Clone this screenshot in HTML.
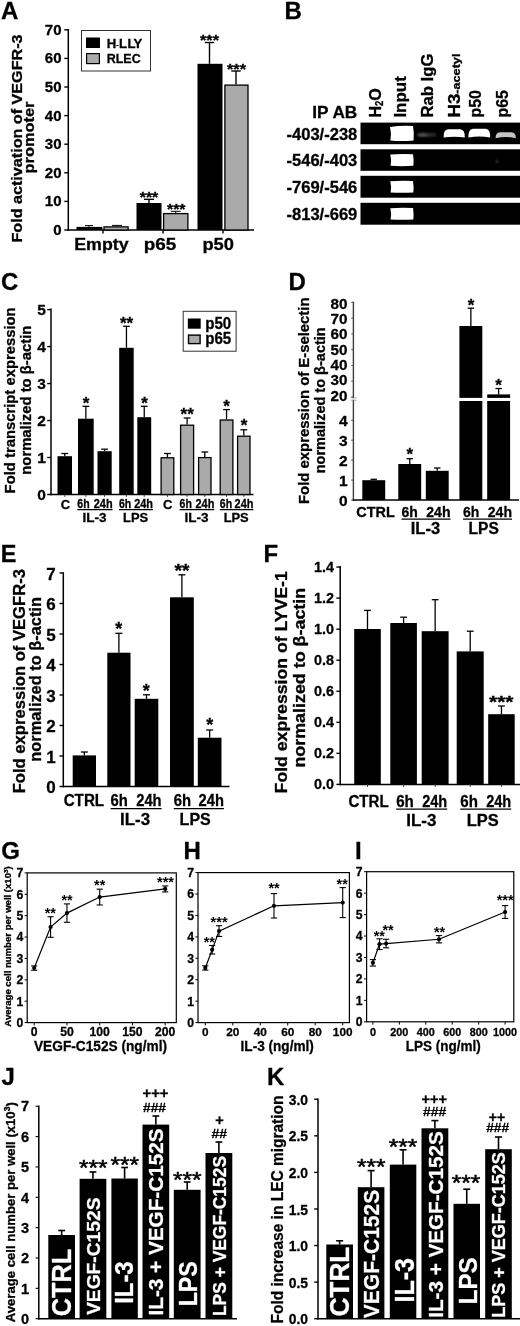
<!DOCTYPE html>
<html><head><meta charset="utf-8"><title>Figure</title>
<style>
html,body{margin:0;padding:0;background:#fff;}
body{width:520px;height:1326px;overflow:hidden;font-family:"Liberation Sans",sans-serif;}
svg{display:block;}
svg text{font-family:"Liberation Sans",sans-serif;font-weight:bold;stroke:#000;stroke-width:0.3px;}
</style></head>
<body>
<svg width="520" height="1326" viewBox="0 0 520 1326">
<defs>
<filter id="soft" x="0" y="0" width="520" height="1326" filterUnits="userSpaceOnUse"><feGaussianBlur stdDeviation="0.45"/></filter>
<filter id="b1" x="-20%" y="-40%" width="140%" height="180%"><feGaussianBlur stdDeviation="0.7"/></filter>
<filter id="b2" x="-50%" y="-100%" width="200%" height="300%"><feGaussianBlur stdDeviation="1.2"/></filter>
</defs>
<rect x="0" y="0" width="520" height="1326" fill="#fff"/>
<g filter="url(#soft)">
<text x="1.00" y="19.30" font-size="24">A</text>
<line x1="68.30" y1="29.10" x2="68.30" y2="230.75" stroke="#000" stroke-width="1.5"/>
<line x1="67.60" y1="230.00" x2="254.00" y2="230.00" stroke="#000" stroke-width="1.5"/>
<line x1="64.30" y1="230.00" x2="68.30" y2="230.00" stroke="#000" stroke-width="1.4"/>
<text x="61.50" y="235.00" font-size="15" text-anchor="end">0</text>
<line x1="64.30" y1="201.40" x2="68.30" y2="201.40" stroke="#000" stroke-width="1.4"/>
<text x="61.50" y="206.40" font-size="15" text-anchor="end">10</text>
<line x1="64.30" y1="172.80" x2="68.30" y2="172.80" stroke="#000" stroke-width="1.4"/>
<text x="61.50" y="177.80" font-size="15" text-anchor="end">20</text>
<line x1="64.30" y1="144.20" x2="68.30" y2="144.20" stroke="#000" stroke-width="1.4"/>
<text x="61.50" y="149.20" font-size="15" text-anchor="end">30</text>
<line x1="64.30" y1="115.60" x2="68.30" y2="115.60" stroke="#000" stroke-width="1.4"/>
<text x="61.50" y="120.60" font-size="15" text-anchor="end">40</text>
<line x1="64.30" y1="87.00" x2="68.30" y2="87.00" stroke="#000" stroke-width="1.4"/>
<text x="61.50" y="92.00" font-size="15" text-anchor="end">50</text>
<line x1="64.30" y1="58.40" x2="68.30" y2="58.40" stroke="#000" stroke-width="1.4"/>
<text x="61.50" y="63.40" font-size="15" text-anchor="end">60</text>
<line x1="64.30" y1="29.80" x2="68.30" y2="29.80" stroke="#000" stroke-width="1.4"/>
<text x="61.50" y="34.80" font-size="15" text-anchor="end">70</text>
<line x1="103.00" y1="230.00" x2="103.00" y2="233.50" stroke="#000" stroke-width="1.4"/>
<line x1="163.00" y1="230.00" x2="163.00" y2="233.50" stroke="#000" stroke-width="1.4"/>
<line x1="223.00" y1="230.00" x2="223.00" y2="233.50" stroke="#000" stroke-width="1.4"/>
<rect x="76.50" y="226.90" width="25.90" height="3.10" fill="#000"/>
<rect x="104.00" y="226.90" width="24.10" height="3.10" fill="#aaaaaa" stroke="#000" stroke-width="1.3"/>
<rect x="136.50" y="203.00" width="25.00" height="27.00" fill="#000"/>
<rect x="163.60" y="213.60" width="24.30" height="16.40" fill="#aaaaaa" stroke="#000" stroke-width="1.3"/>
<rect x="197.50" y="63.80" width="25.00" height="166.20" fill="#000"/>
<rect x="224.90" y="85.10" width="23.10" height="144.90" fill="#aaaaaa" stroke="#000" stroke-width="1.3"/>
<line x1="89.00" y1="226.90" x2="89.00" y2="225.60" stroke="#000" stroke-width="1"/>
<line x1="85.00" y1="225.60" x2="93.00" y2="225.60" stroke="#000" stroke-width="1"/>
<line x1="117.00" y1="226.30" x2="117.00" y2="225.40" stroke="#000" stroke-width="1"/>
<line x1="112.00" y1="225.40" x2="122.00" y2="225.40" stroke="#000" stroke-width="1"/>
<line x1="149.00" y1="203.00" x2="149.00" y2="199.30" stroke="#000" stroke-width="1.4"/>
<line x1="144.00" y1="199.30" x2="154.00" y2="199.30" stroke="#000" stroke-width="1.4"/>
<line x1="175.70" y1="213.00" x2="175.70" y2="211.30" stroke="#000" stroke-width="1"/>
<line x1="170.70" y1="211.30" x2="180.70" y2="211.30" stroke="#000" stroke-width="1"/>
<line x1="209.50" y1="63.80" x2="209.50" y2="42.50" stroke="#000" stroke-width="1.4"/>
<line x1="204.80" y1="42.50" x2="214.20" y2="42.50" stroke="#000" stroke-width="1.4"/>
<line x1="236.00" y1="84.50" x2="236.00" y2="71.00" stroke="#000" stroke-width="1.4"/>
<line x1="231.30" y1="71.00" x2="240.70" y2="71.00" stroke="#000" stroke-width="1.4"/>
<text x="209.50" y="44.70" font-size="14" text-anchor="middle" textLength="19.00" lengthAdjust="spacingAndGlyphs">***</text>
<text x="236.50" y="73.70" font-size="14" text-anchor="middle" textLength="19.00" lengthAdjust="spacingAndGlyphs">***</text>
<text x="149.00" y="201.80" font-size="14" text-anchor="middle" textLength="18.50" lengthAdjust="spacingAndGlyphs">***</text>
<text x="176.30" y="213.80" font-size="14" text-anchor="middle" textLength="18.50" lengthAdjust="spacingAndGlyphs">***</text>
<rect x="81.50" y="30.50" width="69.00" height="40.50" fill="#fff" stroke="#333" stroke-width="1"/>
<rect x="86.00" y="37.50" width="14.00" height="10.50" fill="#000"/>
<rect x="86.60" y="53.60" width="12.80" height="10.00" fill="#aaaaaa" stroke="#000" stroke-width="1.2"/>
<text x="106.70" y="47.70" font-size="13.2">H<tspan font-size="7" dy="-1.2">-</tspan><tspan dx="0.3" dy="1.2">L</tspan><tspan dx="0.6">L</tspan><tspan dx="-0.9">Y</tspan></text>
<text x="106.70" y="63.30" font-size="13.5" textLength="34.00" lengthAdjust="spacingAndGlyphs">RLEC</text>
<text x="101.40" y="250.00" font-size="16" text-anchor="middle" textLength="54.30" lengthAdjust="spacingAndGlyphs">Empty</text>
<text x="160.00" y="250.00" font-size="17" text-anchor="middle" textLength="32.50" lengthAdjust="spacingAndGlyphs">p65</text>
<text x="218.20" y="250.00" font-size="17" text-anchor="middle" textLength="31.50" lengthAdjust="spacingAndGlyphs">p50</text>
<text x="21.60" y="138.50" font-size="14.5" text-anchor="middle" transform="rotate(-90 21.60 138.50)" textLength="208.00" lengthAdjust="spacingAndGlyphs">Fold activation of VEGFR-3</text>
<text x="34.20" y="137.50" font-size="14.5" text-anchor="middle" transform="rotate(-90 34.20 137.50)" textLength="72.00" lengthAdjust="spacingAndGlyphs">promoter</text>
<text x="284.50" y="19.00" font-size="24">B</text>
<text x="312.30" y="118.00" font-size="17" textLength="45.00" lengthAdjust="spacingAndGlyphs">IP AB</text>
<rect x="360.50" y="122.60" width="159.50" height="21.60" fill="#000"/>
<text x="357.30" y="140.20" font-size="16" text-anchor="end" textLength="70.80" lengthAdjust="spacingAndGlyphs">-403/-238</text>
<rect x="360.50" y="149.30" width="159.50" height="21.50" fill="#000"/>
<text x="357.30" y="166.35" font-size="16" text-anchor="end" textLength="70.80" lengthAdjust="spacingAndGlyphs">-546/-403</text>
<rect x="360.50" y="175.80" width="159.50" height="21.90" fill="#000"/>
<text x="357.30" y="193.05" font-size="16" text-anchor="end" textLength="70.80" lengthAdjust="spacingAndGlyphs">-769/-546</text>
<rect x="360.50" y="202.80" width="159.50" height="21.90" fill="#000"/>
<text x="357.30" y="220.05" font-size="16" text-anchor="end" textLength="70.80" lengthAdjust="spacingAndGlyphs">-813/-669</text>
<path d="M390 127 Q401 125.2 413 126 Q414.3 133 413.6 140.6 Q401 141.6 390.4 140.6 Q391.8 134 390 127Z" fill="#fff" filter="url(#b1)"/>
<path d="M390.3 154.45 Q401 153.65 413 154.25 Q414 160.05 413.4 165.85 Q401 166.45 390.6 165.85 Q391.8 160.05 390.3 154.45Z" fill="#fff" filter="url(#b1)"/>
<path d="M390.3 181.15 Q401 180.35 413 180.95 Q414 186.75 413.4 192.55 Q401 193.15 390.6 192.55 Q391.8 186.75 390.3 181.15Z" fill="#fff" filter="url(#b1)"/>
<path d="M390.3 208.15 Q401 207.35 413 207.95 Q414 213.75 413.4 219.55 Q401 220.15 390.6 219.55 Q391.8 213.75 390.3 208.15Z" fill="#fff" filter="url(#b1)"/>
<ellipse cx="423" cy="134.8" rx="6" ry="1.9" fill="#555" filter="url(#b2)"/>
<ellipse cx="431" cy="134.8" rx="6" ry="1.6" fill="#333" filter="url(#b2)"/>
<path d="M443.6 137.6 Q443.3 129.7 448.1 129.2 L460.3 129.2 Q465.1 129.7 464.8 137.6 Q454.20000000000005 135.8 443.6 137.6Z" fill="#fff" filter="url(#b1)"/>
<path d="M468.4 137.6 Q468.09999999999997 129.2 472.9 128.7 L485.7 128.7 Q490.5 129.2 490.2 137.6 Q479.29999999999995 135.5 468.4 137.6Z" fill="#fff" filter="url(#b1)"/>
<path d="M495.6 138.2 Q495.3 132.7 500.1 132.2 L511.29999999999995 132.2 Q516.0999999999999 132.7 515.8 138.2 Q505.7 136.0 495.6 138.2Z" fill="#c4c4c4" filter="url(#b1)"/>
<ellipse cx="497" cy="161.6" rx="1.6" ry="1.6" fill="#3a3a3a" filter="url(#b2)"/>
<text x="381.50" y="117.60" font-size="17" transform="rotate(-90 381.50 117.60)" textLength="29.50" lengthAdjust="spacingAndGlyphs">H<tspan font-size="10" dy="1.5">2</tspan><tspan dy="-1.5">O</tspan></text>
<text x="406.20" y="117.60" font-size="17" transform="rotate(-90 406.20 117.60)" textLength="41.50" lengthAdjust="spacingAndGlyphs">Input</text>
<text x="433.20" y="117.60" font-size="17" transform="rotate(-90 433.20 117.60)" textLength="64.00" lengthAdjust="spacingAndGlyphs">Rab IgG</text>
<text x="460.00" y="117.60" font-size="17" transform="rotate(-90 460.00 117.60)" textLength="64.00" lengthAdjust="spacingAndGlyphs">H3<tspan font-size="11.5">-acetyl</tspan></text>
<text x="481.50" y="117.60" font-size="16.5" transform="rotate(-90 481.50 117.60)" textLength="27.50" lengthAdjust="spacingAndGlyphs">p50</text>
<text x="507.70" y="117.60" font-size="16.5" transform="rotate(-90 507.70 117.60)" textLength="27.50" lengthAdjust="spacingAndGlyphs">p65</text>
<text x="1.00" y="290.00" font-size="24">C</text>
<line x1="51.00" y1="308.50" x2="51.00" y2="495.25" stroke="#000" stroke-width="1.5"/>
<line x1="50.30" y1="494.50" x2="253.50" y2="494.50" stroke="#000" stroke-width="1.5"/>
<line x1="47.20" y1="494.50" x2="51.00" y2="494.50" stroke="#000" stroke-width="1.4"/>
<text x="45.80" y="500.00" font-size="15.5" text-anchor="end">0</text>
<line x1="47.20" y1="457.52" x2="51.00" y2="457.52" stroke="#000" stroke-width="1.4"/>
<text x="45.80" y="463.02" font-size="15.5" text-anchor="end">1</text>
<line x1="47.20" y1="420.54" x2="51.00" y2="420.54" stroke="#000" stroke-width="1.4"/>
<text x="45.80" y="426.04" font-size="15.5" text-anchor="end">2</text>
<line x1="47.20" y1="383.56" x2="51.00" y2="383.56" stroke="#000" stroke-width="1.4"/>
<text x="45.80" y="389.06" font-size="15.5" text-anchor="end">3</text>
<line x1="47.20" y1="346.58" x2="51.00" y2="346.58" stroke="#000" stroke-width="1.4"/>
<text x="45.80" y="352.08" font-size="15.5" text-anchor="end">4</text>
<line x1="47.20" y1="309.60" x2="51.00" y2="309.60" stroke="#000" stroke-width="1.4"/>
<text x="45.80" y="315.10" font-size="15.5" text-anchor="end">5</text>
<rect x="57.50" y="456.20" width="14.50" height="38.30" fill="#000"/>
<line x1="64.75" y1="456.20" x2="64.75" y2="453.50" stroke="#000" stroke-width="1.3"/>
<line x1="61.35" y1="453.50" x2="68.15" y2="453.50" stroke="#000" stroke-width="1.3"/>
<rect x="78.00" y="418.70" width="15.70" height="75.80" fill="#000"/>
<line x1="85.85" y1="418.70" x2="85.85" y2="406.30" stroke="#000" stroke-width="1.3"/>
<line x1="82.45" y1="406.30" x2="89.25" y2="406.30" stroke="#000" stroke-width="1.3"/>
<rect x="97.50" y="451.20" width="14.20" height="43.30" fill="#000"/>
<line x1="104.60" y1="451.20" x2="104.60" y2="449.20" stroke="#000" stroke-width="1.3"/>
<line x1="101.20" y1="449.20" x2="108.00" y2="449.20" stroke="#000" stroke-width="1.3"/>
<rect x="119.20" y="347.80" width="14.50" height="146.70" fill="#000"/>
<line x1="126.45" y1="347.80" x2="126.45" y2="326.30" stroke="#000" stroke-width="1.3"/>
<line x1="123.05" y1="326.30" x2="129.85" y2="326.30" stroke="#000" stroke-width="1.3"/>
<rect x="137.30" y="417.20" width="13.90" height="77.30" fill="#000"/>
<line x1="144.25" y1="417.20" x2="144.25" y2="406.30" stroke="#000" stroke-width="1.3"/>
<line x1="140.85" y1="406.30" x2="147.65" y2="406.30" stroke="#000" stroke-width="1.3"/>
<rect x="161.10" y="457.80" width="12.70" height="36.70" fill="#aaaaaa" stroke="#000" stroke-width="1.3"/>
<line x1="167.45" y1="457.20" x2="167.45" y2="453.50" stroke="#000" stroke-width="1.3"/>
<line x1="164.05" y1="453.50" x2="170.85" y2="453.50" stroke="#000" stroke-width="1.3"/>
<rect x="180.60" y="425.20" width="13.00" height="69.30" fill="#aaaaaa" stroke="#000" stroke-width="1.3"/>
<line x1="187.10" y1="424.60" x2="187.10" y2="418.00" stroke="#000" stroke-width="1.3"/>
<line x1="183.70" y1="418.00" x2="190.50" y2="418.00" stroke="#000" stroke-width="1.3"/>
<rect x="198.60" y="457.60" width="12.40" height="36.90" fill="#aaaaaa" stroke="#000" stroke-width="1.3"/>
<line x1="204.80" y1="457.00" x2="204.80" y2="452.00" stroke="#000" stroke-width="1.3"/>
<line x1="201.40" y1="452.00" x2="208.20" y2="452.00" stroke="#000" stroke-width="1.3"/>
<rect x="220.20" y="420.00" width="12.70" height="74.50" fill="#aaaaaa" stroke="#000" stroke-width="1.3"/>
<line x1="226.55" y1="419.40" x2="226.55" y2="409.60" stroke="#000" stroke-width="1.3"/>
<line x1="223.15" y1="409.60" x2="229.95" y2="409.60" stroke="#000" stroke-width="1.3"/>
<rect x="237.60" y="436.20" width="12.40" height="58.30" fill="#aaaaaa" stroke="#000" stroke-width="1.3"/>
<line x1="243.80" y1="435.60" x2="243.80" y2="429.80" stroke="#000" stroke-width="1.3"/>
<line x1="240.40" y1="429.80" x2="247.20" y2="429.80" stroke="#000" stroke-width="1.3"/>
<text x="86.00" y="408.50" font-size="17" text-anchor="middle">*</text>
<text x="126.50" y="328.70" font-size="17" text-anchor="middle">**</text>
<text x="144.50" y="408.50" font-size="17" text-anchor="middle">*</text>
<text x="187.20" y="419.50" font-size="17" text-anchor="middle">**</text>
<text x="226.50" y="411.50" font-size="17" text-anchor="middle">*</text>
<text x="244.00" y="431.00" font-size="17" text-anchor="middle">*</text>
<rect x="183.20" y="311.30" width="52.90" height="39.90" fill="#fff" stroke="#333" stroke-width="1"/>
<rect x="187.80" y="318.50" width="12.90" height="10.20" fill="#000"/>
<rect x="188.50" y="335.10" width="11.60" height="8.50" fill="#aaaaaa" stroke="#000" stroke-width="1.4"/>
<text x="205.20" y="329.20" font-size="16" textLength="26.00" lengthAdjust="spacingAndGlyphs">p50</text>
<text x="205.20" y="344.30" font-size="16" textLength="26.00" lengthAdjust="spacingAndGlyphs">p65</text>
<text x="65.40" y="508.70" font-size="13" text-anchor="middle">C</text>
<text x="167.60" y="508.70" font-size="13" text-anchor="middle">C</text>
<text x="77.30" y="508.10" font-size="12" textLength="12.30" lengthAdjust="spacingAndGlyphs">6h</text>
<text x="112.60" y="508.10" font-size="12" text-anchor="end" textLength="18.80" lengthAdjust="spacingAndGlyphs">24h</text>
<line x1="77.30" y1="509.60" x2="112.60" y2="509.60" stroke="#000" stroke-width="1.2"/>
<text x="94.55" y="521.50" font-size="13" text-anchor="middle" textLength="24.00" lengthAdjust="spacingAndGlyphs">IL-3</text>
<text x="119.00" y="508.10" font-size="12" textLength="12.30" lengthAdjust="spacingAndGlyphs">6h</text>
<text x="153.00" y="508.10" font-size="12" text-anchor="end" textLength="18.80" lengthAdjust="spacingAndGlyphs">24h</text>
<line x1="119.00" y1="509.60" x2="153.00" y2="509.60" stroke="#000" stroke-width="1.2"/>
<text x="135.60" y="521.50" font-size="13" text-anchor="middle" textLength="25.10" lengthAdjust="spacingAndGlyphs">LPS</text>
<text x="179.60" y="508.10" font-size="12" textLength="12.30" lengthAdjust="spacingAndGlyphs">6h</text>
<text x="214.30" y="508.10" font-size="12" text-anchor="end" textLength="18.80" lengthAdjust="spacingAndGlyphs">24h</text>
<line x1="179.60" y1="509.60" x2="214.30" y2="509.60" stroke="#000" stroke-width="1.2"/>
<text x="196.55" y="521.50" font-size="13" text-anchor="middle" textLength="24.00" lengthAdjust="spacingAndGlyphs">IL-3</text>
<text x="219.80" y="508.10" font-size="12" textLength="12.30" lengthAdjust="spacingAndGlyphs">6h</text>
<text x="253.40" y="508.10" font-size="12" text-anchor="end" textLength="18.80" lengthAdjust="spacingAndGlyphs">24h</text>
<line x1="219.80" y1="509.60" x2="253.40" y2="509.60" stroke="#000" stroke-width="1.2"/>
<text x="236.20" y="521.50" font-size="13" text-anchor="middle" textLength="25.10" lengthAdjust="spacingAndGlyphs">LPS</text>
<line x1="64.75" y1="494.50" x2="64.75" y2="496.90" stroke="#333" stroke-width="0.9"/>
<line x1="85.85" y1="494.50" x2="85.85" y2="496.90" stroke="#333" stroke-width="0.9"/>
<line x1="104.60" y1="494.50" x2="104.60" y2="496.90" stroke="#333" stroke-width="0.9"/>
<line x1="126.45" y1="494.50" x2="126.45" y2="496.90" stroke="#333" stroke-width="0.9"/>
<line x1="144.25" y1="494.50" x2="144.25" y2="496.90" stroke="#333" stroke-width="0.9"/>
<line x1="167.45" y1="494.50" x2="167.45" y2="496.90" stroke="#333" stroke-width="0.9"/>
<line x1="187.10" y1="494.50" x2="187.10" y2="496.90" stroke="#333" stroke-width="0.9"/>
<line x1="204.80" y1="494.50" x2="204.80" y2="496.90" stroke="#333" stroke-width="0.9"/>
<line x1="226.55" y1="494.50" x2="226.55" y2="496.90" stroke="#333" stroke-width="0.9"/>
<line x1="243.80" y1="494.50" x2="243.80" y2="496.90" stroke="#333" stroke-width="0.9"/>
<text x="15.30" y="400.40" font-size="15.3" text-anchor="middle" transform="rotate(-90 15.30 400.40)" textLength="186.00" lengthAdjust="spacingAndGlyphs">Fold transcript expression</text>
<text x="31.20" y="400.20" font-size="15.3" text-anchor="middle" transform="rotate(-90 31.20 400.20)" textLength="149.00" lengthAdjust="spacingAndGlyphs">normalized to β-actin</text>
<text x="288.50" y="289.50" font-size="24">D</text>
<line x1="353.40" y1="301.60" x2="353.40" y2="500.70" stroke="#3a3a3a" stroke-width="1.4"/>
<line x1="352.70" y1="500.00" x2="519.00" y2="500.00" stroke="#000" stroke-width="1.5"/>
<rect x="351.40" y="398.20" width="4.00" height="1.60" fill="#fff"/>
<line x1="350.80" y1="397.80" x2="356.80" y2="397.80" stroke="#888" stroke-width="0.7"/>
<line x1="350.80" y1="400.20" x2="356.80" y2="400.20" stroke="#888" stroke-width="0.7"/>
<line x1="351.20" y1="500.00" x2="353.40" y2="500.00" stroke="#444" stroke-width="1.0"/>
<text x="347.60" y="505.50" font-size="15.5" text-anchor="end">0</text>
<line x1="351.20" y1="480.05" x2="353.40" y2="480.05" stroke="#444" stroke-width="1.0"/>
<text x="347.60" y="485.55" font-size="15.5" text-anchor="end">1</text>
<line x1="351.20" y1="460.10" x2="353.40" y2="460.10" stroke="#444" stroke-width="1.0"/>
<text x="347.60" y="465.60" font-size="15.5" text-anchor="end">2</text>
<line x1="351.20" y1="440.15" x2="353.40" y2="440.15" stroke="#444" stroke-width="1.0"/>
<text x="347.60" y="445.65" font-size="15.5" text-anchor="end">3</text>
<line x1="351.20" y1="420.20" x2="353.40" y2="420.20" stroke="#444" stroke-width="1.0"/>
<text x="347.60" y="425.70" font-size="15.5" text-anchor="end">4</text>
<line x1="351.20" y1="397.00" x2="353.40" y2="397.00" stroke="#555" stroke-width="1.0"/>
<text x="347.50" y="400.80" font-size="15.2" text-anchor="end">20</text>
<line x1="351.20" y1="381.23" x2="353.40" y2="381.23" stroke="#555" stroke-width="1.0"/>
<text x="347.50" y="385.47" font-size="15.2" text-anchor="end">30</text>
<line x1="351.20" y1="365.46" x2="353.40" y2="365.46" stroke="#555" stroke-width="1.0"/>
<text x="347.50" y="370.14" font-size="15.2" text-anchor="end">40</text>
<line x1="351.20" y1="349.69" x2="353.40" y2="349.69" stroke="#555" stroke-width="1.0"/>
<text x="347.50" y="354.81" font-size="15.2" text-anchor="end">50</text>
<line x1="351.20" y1="333.92" x2="353.40" y2="333.92" stroke="#555" stroke-width="1.0"/>
<text x="347.50" y="339.48" font-size="15.2" text-anchor="end">60</text>
<line x1="351.20" y1="318.15" x2="353.40" y2="318.15" stroke="#555" stroke-width="1.0"/>
<text x="347.50" y="324.15" font-size="15.2" text-anchor="end">70</text>
<line x1="351.20" y1="302.38" x2="353.40" y2="302.38" stroke="#555" stroke-width="1.0"/>
<text x="347.50" y="308.82" font-size="15.2" text-anchor="end">80</text>
<rect x="362.30" y="480.20" width="22.90" height="19.80" fill="#000"/>
<line x1="373.75" y1="480.20" x2="373.75" y2="479.30" stroke="#000" stroke-width="1.3"/>
<line x1="370.55" y1="479.30" x2="376.95" y2="479.30" stroke="#000" stroke-width="1.3"/>
<rect x="398.30" y="464.00" width="22.90" height="36.00" fill="#000"/>
<line x1="409.75" y1="464.00" x2="409.75" y2="458.70" stroke="#000" stroke-width="1.3"/>
<line x1="406.55" y1="458.70" x2="412.95" y2="458.70" stroke="#000" stroke-width="1.3"/>
<rect x="425.80" y="470.80" width="22.90" height="29.20" fill="#000"/>
<line x1="437.25" y1="470.80" x2="437.25" y2="468.00" stroke="#000" stroke-width="1.3"/>
<line x1="434.05" y1="468.00" x2="440.45" y2="468.00" stroke="#000" stroke-width="1.3"/>
<rect x="459.40" y="326.00" width="22.90" height="174.00" fill="#000"/>
<line x1="470.85" y1="326.00" x2="470.85" y2="308.20" stroke="#000" stroke-width="1.3"/>
<line x1="467.65" y1="308.20" x2="474.05" y2="308.20" stroke="#000" stroke-width="1.3"/>
<rect x="487.20" y="394.40" width="22.90" height="105.60" fill="#000"/>
<line x1="498.65" y1="394.40" x2="498.65" y2="388.50" stroke="#000" stroke-width="1.3"/>
<line x1="495.45" y1="388.50" x2="501.85" y2="388.50" stroke="#000" stroke-width="1.3"/>
<rect x="455.00" y="397.90" width="60.00" height="3.10" fill="#fff"/>
<text x="409.70" y="459.90" font-size="17" text-anchor="middle">*</text>
<text x="471.00" y="310.80" font-size="17" text-anchor="middle">*</text>
<text x="498.50" y="391.00" font-size="17" text-anchor="middle">*</text>
<text x="375.50" y="517.00" font-size="15" text-anchor="middle" textLength="38.50" lengthAdjust="spacingAndGlyphs">CTRL</text>
<text x="401.50" y="517.00" font-size="15" textLength="16.30" lengthAdjust="spacingAndGlyphs">6h</text>
<text x="450.50" y="517.00" font-size="15" text-anchor="end" textLength="24.20" lengthAdjust="spacingAndGlyphs">24h</text>
<line x1="401.50" y1="519.20" x2="450.50" y2="519.20" stroke="#000" stroke-width="1.2"/>
<text x="425.40" y="533.50" font-size="16" text-anchor="middle" textLength="29.40" lengthAdjust="spacingAndGlyphs">IL-3</text>
<text x="463.00" y="517.00" font-size="15" textLength="16.30" lengthAdjust="spacingAndGlyphs">6h</text>
<text x="512.00" y="517.00" font-size="15" text-anchor="end" textLength="24.20" lengthAdjust="spacingAndGlyphs">24h</text>
<line x1="463.00" y1="519.20" x2="512.00" y2="519.20" stroke="#000" stroke-width="1.2"/>
<text x="483.70" y="533.50" font-size="16" text-anchor="middle" textLength="30.20" lengthAdjust="spacingAndGlyphs">LPS</text>
<text x="309.20" y="400.70" font-size="15" text-anchor="middle" transform="rotate(-90 309.20 400.70)" textLength="206.50" lengthAdjust="spacingAndGlyphs">Fold expression of E-selectin</text>
<text x="325.50" y="400.30" font-size="15" text-anchor="middle" transform="rotate(-90 325.50 400.30)" textLength="146.00" lengthAdjust="spacingAndGlyphs">normalized to β-actin</text>
<text x="0.80" y="561.80" font-size="23.5">E</text>
<line x1="63.30" y1="572.30" x2="63.30" y2="787.25" stroke="#000" stroke-width="1.5"/>
<line x1="62.60" y1="786.50" x2="229.50" y2="786.50" stroke="#000" stroke-width="1.5"/>
<line x1="59.50" y1="786.50" x2="63.30" y2="786.50" stroke="#000" stroke-width="1.4"/>
<text x="55.70" y="793.40" font-size="17" text-anchor="end">0</text>
<line x1="59.50" y1="756.00" x2="63.30" y2="756.00" stroke="#000" stroke-width="1.4"/>
<text x="55.70" y="762.90" font-size="17" text-anchor="end">1</text>
<line x1="59.50" y1="725.50" x2="63.30" y2="725.50" stroke="#000" stroke-width="1.4"/>
<text x="55.70" y="732.40" font-size="17" text-anchor="end">2</text>
<line x1="59.50" y1="695.00" x2="63.30" y2="695.00" stroke="#000" stroke-width="1.4"/>
<text x="55.70" y="701.90" font-size="17" text-anchor="end">3</text>
<line x1="59.50" y1="664.50" x2="63.30" y2="664.50" stroke="#000" stroke-width="1.4"/>
<text x="55.70" y="671.40" font-size="17" text-anchor="end">4</text>
<line x1="59.50" y1="634.00" x2="63.30" y2="634.00" stroke="#000" stroke-width="1.4"/>
<text x="55.70" y="640.90" font-size="17" text-anchor="end">5</text>
<line x1="59.50" y1="603.50" x2="63.30" y2="603.50" stroke="#000" stroke-width="1.4"/>
<text x="55.70" y="610.40" font-size="17" text-anchor="end">6</text>
<line x1="59.50" y1="573.00" x2="63.30" y2="573.00" stroke="#000" stroke-width="1.4"/>
<text x="55.70" y="579.90" font-size="17" text-anchor="end">7</text>
<rect x="72.70" y="755.40" width="23.30" height="31.10" fill="#000"/>
<line x1="84.35" y1="755.40" x2="84.35" y2="752.00" stroke="#000" stroke-width="1.3"/>
<line x1="80.85" y1="752.00" x2="87.85" y2="752.00" stroke="#000" stroke-width="1.3"/>
<rect x="107.30" y="652.70" width="23.20" height="133.80" fill="#000"/>
<line x1="118.90" y1="652.70" x2="118.90" y2="633.30" stroke="#000" stroke-width="1.3"/>
<line x1="115.40" y1="633.30" x2="122.40" y2="633.30" stroke="#000" stroke-width="1.3"/>
<rect x="134.70" y="698.80" width="23.60" height="87.70" fill="#000"/>
<line x1="146.50" y1="698.80" x2="146.50" y2="694.80" stroke="#000" stroke-width="1.3"/>
<line x1="143.00" y1="694.80" x2="150.00" y2="694.80" stroke="#000" stroke-width="1.3"/>
<rect x="170.00" y="597.30" width="23.80" height="189.20" fill="#000"/>
<line x1="181.90" y1="597.30" x2="181.90" y2="574.80" stroke="#000" stroke-width="1.3"/>
<line x1="178.40" y1="574.80" x2="185.40" y2="574.80" stroke="#000" stroke-width="1.3"/>
<rect x="197.80" y="737.70" width="23.70" height="48.80" fill="#000"/>
<line x1="209.65" y1="737.70" x2="209.65" y2="730.00" stroke="#000" stroke-width="1.3"/>
<line x1="206.15" y1="730.00" x2="213.15" y2="730.00" stroke="#000" stroke-width="1.3"/>
<text x="118.70" y="635.30" font-size="18" text-anchor="middle">*</text>
<text x="146.30" y="697.00" font-size="18" text-anchor="middle">*</text>
<text x="182.10" y="577.00" font-size="18" text-anchor="middle" textLength="15.00" lengthAdjust="spacingAndGlyphs">**</text>
<text x="209.80" y="731.30" font-size="18" text-anchor="middle">*</text>
<text x="83.90" y="806.00" font-size="16" text-anchor="middle" textLength="40.50" lengthAdjust="spacingAndGlyphs">CTRL</text>
<text x="110.60" y="806.00" font-size="16" textLength="17.30" lengthAdjust="spacingAndGlyphs">6h</text>
<text x="161.60" y="806.00" font-size="16" text-anchor="end" textLength="25.30" lengthAdjust="spacingAndGlyphs">24h</text>
<line x1="110.60" y1="808.70" x2="161.60" y2="808.70" stroke="#000" stroke-width="1.3"/>
<text x="135.10" y="825.00" font-size="16.5" text-anchor="middle" textLength="30.10" lengthAdjust="spacingAndGlyphs">IL-3</text>
<text x="173.80" y="806.00" font-size="16" textLength="17.30" lengthAdjust="spacingAndGlyphs">6h</text>
<text x="223.90" y="806.00" font-size="16" text-anchor="end" textLength="25.30" lengthAdjust="spacingAndGlyphs">24h</text>
<line x1="173.80" y1="808.70" x2="223.90" y2="808.70" stroke="#000" stroke-width="1.3"/>
<text x="195.20" y="825.00" font-size="16.5" text-anchor="middle" textLength="31.20" lengthAdjust="spacingAndGlyphs">LPS</text>
<text x="24.80" y="681.20" font-size="16.3" text-anchor="middle" transform="rotate(-90 24.80 681.20)" textLength="224.30" lengthAdjust="spacingAndGlyphs">Fold expression of VEGFR-3</text>
<text x="41.40" y="679.40" font-size="16.3" text-anchor="middle" transform="rotate(-90 41.40 679.40)" textLength="164.60" lengthAdjust="spacingAndGlyphs">normalized to β-actin</text>
<text x="263.50" y="562.00" font-size="24">F</text>
<line x1="340.20" y1="566.00" x2="340.20" y2="785.15" stroke="#000" stroke-width="1.5"/>
<line x1="339.50" y1="784.40" x2="520.00" y2="784.40" stroke="#000" stroke-width="1.5"/>
<line x1="336.40" y1="784.40" x2="340.20" y2="784.40" stroke="#000" stroke-width="1.4"/>
<text x="334.10" y="789.30" font-size="14.5" text-anchor="end" textLength="20.00" lengthAdjust="spacingAndGlyphs">0.0</text>
<line x1="336.40" y1="753.35" x2="340.20" y2="753.35" stroke="#000" stroke-width="1.4"/>
<text x="334.10" y="758.25" font-size="14.5" text-anchor="end" textLength="20.00" lengthAdjust="spacingAndGlyphs">0.2</text>
<line x1="336.40" y1="722.30" x2="340.20" y2="722.30" stroke="#000" stroke-width="1.4"/>
<text x="334.10" y="727.20" font-size="14.5" text-anchor="end" textLength="20.00" lengthAdjust="spacingAndGlyphs">0.4</text>
<line x1="336.40" y1="691.25" x2="340.20" y2="691.25" stroke="#000" stroke-width="1.4"/>
<text x="334.10" y="696.15" font-size="14.5" text-anchor="end" textLength="20.00" lengthAdjust="spacingAndGlyphs">0.6</text>
<line x1="336.40" y1="660.20" x2="340.20" y2="660.20" stroke="#000" stroke-width="1.4"/>
<text x="334.10" y="665.10" font-size="14.5" text-anchor="end" textLength="20.00" lengthAdjust="spacingAndGlyphs">0.8</text>
<line x1="336.40" y1="629.15" x2="340.20" y2="629.15" stroke="#000" stroke-width="1.4"/>
<text x="334.10" y="634.05" font-size="14.5" text-anchor="end" textLength="20.00" lengthAdjust="spacingAndGlyphs">1.0</text>
<line x1="336.40" y1="598.10" x2="340.20" y2="598.10" stroke="#000" stroke-width="1.4"/>
<text x="334.10" y="603.00" font-size="14.5" text-anchor="end" textLength="20.00" lengthAdjust="spacingAndGlyphs">1.2</text>
<line x1="336.40" y1="567.05" x2="340.20" y2="567.05" stroke="#000" stroke-width="1.4"/>
<text x="334.10" y="571.95" font-size="14.5" text-anchor="end" textLength="20.00" lengthAdjust="spacingAndGlyphs">1.4</text>
<rect x="354.20" y="629.00" width="26.60" height="155.40" fill="#000"/>
<line x1="367.50" y1="629.00" x2="367.50" y2="610.40" stroke="#000" stroke-width="1.3"/>
<line x1="364.10" y1="610.40" x2="370.90" y2="610.40" stroke="#000" stroke-width="1.3"/>
<line x1="367.50" y1="784.40" x2="367.50" y2="787.00" stroke="#444" stroke-width="1.0"/>
<rect x="390.30" y="623.00" width="26.60" height="161.40" fill="#000"/>
<line x1="403.60" y1="623.00" x2="403.60" y2="617.20" stroke="#000" stroke-width="1.3"/>
<line x1="400.20" y1="617.20" x2="407.00" y2="617.20" stroke="#000" stroke-width="1.3"/>
<line x1="403.60" y1="784.40" x2="403.60" y2="787.00" stroke="#444" stroke-width="1.0"/>
<rect x="421.70" y="631.20" width="26.90" height="153.20" fill="#000"/>
<line x1="435.15" y1="631.20" x2="435.15" y2="599.70" stroke="#000" stroke-width="1.3"/>
<line x1="431.75" y1="599.70" x2="438.55" y2="599.70" stroke="#000" stroke-width="1.3"/>
<line x1="435.15" y1="784.40" x2="435.15" y2="787.00" stroke="#444" stroke-width="1.0"/>
<rect x="456.70" y="651.40" width="27.00" height="133.00" fill="#000"/>
<line x1="470.20" y1="651.40" x2="470.20" y2="631.20" stroke="#000" stroke-width="1.3"/>
<line x1="466.80" y1="631.20" x2="473.60" y2="631.20" stroke="#000" stroke-width="1.3"/>
<line x1="470.20" y1="784.40" x2="470.20" y2="787.00" stroke="#444" stroke-width="1.0"/>
<rect x="488.20" y="714.20" width="26.50" height="70.20" fill="#000"/>
<line x1="501.45" y1="714.20" x2="501.45" y2="706.00" stroke="#000" stroke-width="1.3"/>
<line x1="498.05" y1="706.00" x2="504.85" y2="706.00" stroke="#000" stroke-width="1.3"/>
<line x1="501.45" y1="784.40" x2="501.45" y2="787.00" stroke="#444" stroke-width="1.0"/>
<text x="501.30" y="708.00" font-size="16" text-anchor="middle" textLength="24.50" lengthAdjust="spacingAndGlyphs">***</text>
<text x="368.50" y="806.50" font-size="16" text-anchor="middle" textLength="40.20" lengthAdjust="spacingAndGlyphs">CTRL</text>
<text x="396.20" y="806.50" font-size="16" textLength="17.60" lengthAdjust="spacingAndGlyphs">6h</text>
<text x="447.20" y="806.50" font-size="16" text-anchor="end" textLength="25.00" lengthAdjust="spacingAndGlyphs">24h</text>
<line x1="396.20" y1="809.20" x2="447.20" y2="809.20" stroke="#000" stroke-width="1.3"/>
<text x="421.30" y="825.50" font-size="17" text-anchor="middle" textLength="30.20" lengthAdjust="spacingAndGlyphs">IL-3</text>
<text x="460.30" y="806.50" font-size="16" textLength="17.60" lengthAdjust="spacingAndGlyphs">6h</text>
<text x="511.20" y="806.50" font-size="16" text-anchor="end" textLength="25.00" lengthAdjust="spacingAndGlyphs">24h</text>
<line x1="460.30" y1="809.20" x2="511.20" y2="809.20" stroke="#000" stroke-width="1.3"/>
<text x="482.70" y="825.50" font-size="17" text-anchor="middle" textLength="32.00" lengthAdjust="spacingAndGlyphs">LPS</text>
<text x="286.90" y="682.30" font-size="16" text-anchor="middle" transform="rotate(-90 286.90 682.30)" textLength="222.20" lengthAdjust="spacingAndGlyphs">Fold expression of LYVE-1</text>
<text x="305.40" y="677.70" font-size="16" text-anchor="middle" transform="rotate(-90 305.40 677.70)" textLength="179.70" lengthAdjust="spacingAndGlyphs">normalized to β-actin</text>
<text x="1.30" y="858.70" font-size="24">G</text>
<rect x="27.20" y="872.90" width="149.10" height="149.70" fill="none" stroke="#000" stroke-width="1.2"/>
<line x1="24.60" y1="1022.60" x2="27.20" y2="1022.60" stroke="#000" stroke-width="1.0"/>
<text x="23.30" y="1027.00" font-size="12.2" text-anchor="end">0</text>
<line x1="24.60" y1="1001.21" x2="27.20" y2="1001.21" stroke="#000" stroke-width="1.0"/>
<text x="23.30" y="1005.61" font-size="12.2" text-anchor="end">1</text>
<line x1="24.60" y1="979.83" x2="27.20" y2="979.83" stroke="#000" stroke-width="1.0"/>
<text x="23.30" y="984.23" font-size="12.2" text-anchor="end">2</text>
<line x1="24.60" y1="958.44" x2="27.20" y2="958.44" stroke="#000" stroke-width="1.0"/>
<text x="23.30" y="962.84" font-size="12.2" text-anchor="end">3</text>
<line x1="24.60" y1="937.06" x2="27.20" y2="937.06" stroke="#000" stroke-width="1.0"/>
<text x="23.30" y="941.46" font-size="12.2" text-anchor="end">4</text>
<line x1="24.60" y1="915.67" x2="27.20" y2="915.67" stroke="#000" stroke-width="1.0"/>
<text x="23.30" y="920.07" font-size="12.2" text-anchor="end">5</text>
<line x1="24.60" y1="894.29" x2="27.20" y2="894.29" stroke="#000" stroke-width="1.0"/>
<text x="23.30" y="898.69" font-size="12.2" text-anchor="end">6</text>
<line x1="24.60" y1="872.90" x2="27.20" y2="872.90" stroke="#000" stroke-width="1.0"/>
<text x="23.30" y="877.30" font-size="12.2" text-anchor="end">7</text>
<line x1="34.20" y1="1022.60" x2="34.20" y2="1025.40" stroke="#000" stroke-width="1.0"/>
<text x="34.20" y="1035.60" font-size="12.2" text-anchor="middle">0</text>
<line x1="66.95" y1="1022.60" x2="66.95" y2="1025.40" stroke="#000" stroke-width="1.0"/>
<text x="66.95" y="1035.60" font-size="12.2" text-anchor="middle">50</text>
<line x1="99.70" y1="1022.60" x2="99.70" y2="1025.40" stroke="#000" stroke-width="1.0"/>
<text x="99.70" y="1035.60" font-size="12.2" text-anchor="middle">100</text>
<line x1="132.45" y1="1022.60" x2="132.45" y2="1025.40" stroke="#000" stroke-width="1.0"/>
<text x="132.45" y="1035.60" font-size="12.2" text-anchor="middle">150</text>
<line x1="165.20" y1="1022.60" x2="165.20" y2="1025.40" stroke="#000" stroke-width="1.0"/>
<text x="165.20" y="1035.60" font-size="12.2" text-anchor="middle">200</text>
<path d="M34.20 968.07 L50.58 927.01 L66.95 913.11 L99.70 897.07 L165.20 888.94" fill="none" stroke="#000" stroke-width="1.2"/>
<line x1="34.20" y1="965.93" x2="34.20" y2="970.21" stroke="#000" stroke-width="1.1"/>
<line x1="31.10" y1="965.93" x2="37.30" y2="965.93" stroke="#000" stroke-width="1.1"/>
<line x1="31.10" y1="970.21" x2="37.30" y2="970.21" stroke="#000" stroke-width="1.1"/>
<circle cx="34.20" cy="968.07" r="2.1" fill="#000"/>
<line x1="50.58" y1="916.74" x2="50.58" y2="937.27" stroke="#000" stroke-width="1.1"/>
<line x1="47.48" y1="916.74" x2="53.68" y2="916.74" stroke="#000" stroke-width="1.1"/>
<line x1="47.48" y1="937.27" x2="53.68" y2="937.27" stroke="#000" stroke-width="1.1"/>
<circle cx="50.58" cy="927.01" r="2.1" fill="#000"/>
<line x1="66.95" y1="903.91" x2="66.95" y2="922.30" stroke="#000" stroke-width="1.1"/>
<line x1="63.85" y1="903.91" x2="70.05" y2="903.91" stroke="#000" stroke-width="1.1"/>
<line x1="63.85" y1="922.30" x2="70.05" y2="922.30" stroke="#000" stroke-width="1.1"/>
<circle cx="66.95" cy="913.11" r="2.1" fill="#000"/>
<line x1="99.70" y1="889.15" x2="99.70" y2="904.98" stroke="#000" stroke-width="1.1"/>
<line x1="96.60" y1="889.15" x2="102.80" y2="889.15" stroke="#000" stroke-width="1.1"/>
<line x1="96.60" y1="904.98" x2="102.80" y2="904.98" stroke="#000" stroke-width="1.1"/>
<circle cx="99.70" cy="897.07" r="2.1" fill="#000"/>
<line x1="165.20" y1="885.95" x2="165.20" y2="891.93" stroke="#000" stroke-width="1.1"/>
<line x1="162.10" y1="885.95" x2="168.30" y2="885.95" stroke="#000" stroke-width="1.1"/>
<line x1="162.10" y1="891.93" x2="168.30" y2="891.93" stroke="#000" stroke-width="1.1"/>
<circle cx="165.20" cy="888.94" r="2.1" fill="#000"/>
<text x="50.30" y="918.25" font-size="14.5" text-anchor="middle" style="stroke:none;" textLength="11.20" lengthAdjust="spacingAndGlyphs">**</text>
<text x="67.00" y="904.55" font-size="14.5" text-anchor="middle" style="stroke:none;" textLength="11.20" lengthAdjust="spacingAndGlyphs">**</text>
<text x="99.70" y="890.25" font-size="14.5" text-anchor="middle" style="stroke:none;" textLength="11.20" lengthAdjust="spacingAndGlyphs">**</text>
<text x="165.50" y="886.85" font-size="14.5" text-anchor="middle" style="stroke:none;" textLength="17.00" lengthAdjust="spacingAndGlyphs">***</text>
<text x="100.50" y="1050.50" font-size="14.3" text-anchor="middle" textLength="133.00" lengthAdjust="spacingAndGlyphs">VEGF-C152S (ng/ml)</text>
<text x="11.20" y="946.50" font-size="8.4" text-anchor="middle" transform="rotate(-90 11.20 946.50)" textLength="160.30" lengthAdjust="spacingAndGlyphs">Average cell number per well (x10<tspan font-size="5.5" dy="-3">3</tspan><tspan dy="3">)</tspan></text>
<text x="183.50" y="858.70" font-size="24">H</text>
<rect x="198.00" y="872.60" width="151.40" height="150.00" fill="none" stroke="#000" stroke-width="1.2"/>
<line x1="195.40" y1="1022.60" x2="198.00" y2="1022.60" stroke="#000" stroke-width="1.0"/>
<text x="194.00" y="1027.00" font-size="12.2" text-anchor="end">0</text>
<line x1="195.40" y1="1001.17" x2="198.00" y2="1001.17" stroke="#000" stroke-width="1.0"/>
<text x="194.00" y="1005.57" font-size="12.2" text-anchor="end">1</text>
<line x1="195.40" y1="979.74" x2="198.00" y2="979.74" stroke="#000" stroke-width="1.0"/>
<text x="194.00" y="984.14" font-size="12.2" text-anchor="end">2</text>
<line x1="195.40" y1="958.31" x2="198.00" y2="958.31" stroke="#000" stroke-width="1.0"/>
<text x="194.00" y="962.71" font-size="12.2" text-anchor="end">3</text>
<line x1="195.40" y1="936.89" x2="198.00" y2="936.89" stroke="#000" stroke-width="1.0"/>
<text x="194.00" y="941.29" font-size="12.2" text-anchor="end">4</text>
<line x1="195.40" y1="915.46" x2="198.00" y2="915.46" stroke="#000" stroke-width="1.0"/>
<text x="194.00" y="919.86" font-size="12.2" text-anchor="end">5</text>
<line x1="195.40" y1="894.03" x2="198.00" y2="894.03" stroke="#000" stroke-width="1.0"/>
<text x="194.00" y="898.43" font-size="12.2" text-anchor="end">6</text>
<line x1="195.40" y1="872.60" x2="198.00" y2="872.60" stroke="#000" stroke-width="1.0"/>
<text x="194.00" y="877.00" font-size="12.2" text-anchor="end">7</text>
<line x1="205.30" y1="1022.60" x2="205.30" y2="1025.40" stroke="#000" stroke-width="1.0"/>
<text x="205.30" y="1035.60" font-size="11.8" text-anchor="middle">0</text>
<line x1="232.78" y1="1022.60" x2="232.78" y2="1025.40" stroke="#000" stroke-width="1.0"/>
<text x="232.78" y="1035.60" font-size="11.8" text-anchor="middle">20</text>
<line x1="260.26" y1="1022.60" x2="260.26" y2="1025.40" stroke="#000" stroke-width="1.0"/>
<text x="260.26" y="1035.60" font-size="11.8" text-anchor="middle">40</text>
<line x1="287.74" y1="1022.60" x2="287.74" y2="1025.40" stroke="#000" stroke-width="1.0"/>
<text x="287.74" y="1035.60" font-size="11.8" text-anchor="middle">60</text>
<line x1="315.22" y1="1022.60" x2="315.22" y2="1025.40" stroke="#000" stroke-width="1.0"/>
<text x="315.22" y="1035.60" font-size="11.8" text-anchor="middle">80</text>
<line x1="342.70" y1="1022.60" x2="342.70" y2="1025.40" stroke="#000" stroke-width="1.0"/>
<text x="342.70" y="1035.60" font-size="11.8" text-anchor="middle">100</text>
<path d="M205.30 967.96 L212.17 949.74 L219.04 931.10 L274.00 905.81 L342.70 902.60" fill="none" stroke="#000" stroke-width="1.2"/>
<line x1="205.30" y1="965.81" x2="205.30" y2="970.10" stroke="#000" stroke-width="1.1"/>
<line x1="202.20" y1="965.81" x2="208.40" y2="965.81" stroke="#000" stroke-width="1.1"/>
<line x1="202.20" y1="970.10" x2="208.40" y2="970.10" stroke="#000" stroke-width="1.1"/>
<circle cx="205.30" cy="967.96" r="2.1" fill="#000"/>
<line x1="212.17" y1="945.46" x2="212.17" y2="954.03" stroke="#000" stroke-width="1.1"/>
<line x1="209.07" y1="945.46" x2="215.27" y2="945.46" stroke="#000" stroke-width="1.1"/>
<line x1="209.07" y1="954.03" x2="215.27" y2="954.03" stroke="#000" stroke-width="1.1"/>
<circle cx="212.17" cy="949.74" r="2.1" fill="#000"/>
<line x1="219.04" y1="925.74" x2="219.04" y2="936.46" stroke="#000" stroke-width="1.1"/>
<line x1="215.94" y1="925.74" x2="222.14" y2="925.74" stroke="#000" stroke-width="1.1"/>
<line x1="215.94" y1="936.46" x2="222.14" y2="936.46" stroke="#000" stroke-width="1.1"/>
<circle cx="219.04" cy="931.10" r="2.1" fill="#000"/>
<line x1="274.00" y1="893.60" x2="274.00" y2="918.03" stroke="#000" stroke-width="1.1"/>
<line x1="270.90" y1="893.60" x2="277.10" y2="893.60" stroke="#000" stroke-width="1.1"/>
<line x1="270.90" y1="918.03" x2="277.10" y2="918.03" stroke="#000" stroke-width="1.1"/>
<circle cx="274.00" cy="905.81" r="2.1" fill="#000"/>
<line x1="342.70" y1="887.60" x2="342.70" y2="917.60" stroke="#000" stroke-width="1.1"/>
<line x1="339.60" y1="887.60" x2="345.80" y2="887.60" stroke="#000" stroke-width="1.1"/>
<line x1="339.60" y1="917.60" x2="345.80" y2="917.60" stroke="#000" stroke-width="1.1"/>
<circle cx="342.70" cy="902.60" r="2.1" fill="#000"/>
<text x="209.30" y="946.55" font-size="14.5" text-anchor="middle" style="stroke:none;" textLength="11.20" lengthAdjust="spacingAndGlyphs">**</text>
<text x="219.10" y="926.85" font-size="14.5" text-anchor="middle" style="stroke:none;" textLength="17.00" lengthAdjust="spacingAndGlyphs">***</text>
<text x="274.00" y="893.25" font-size="14.5" text-anchor="middle" style="stroke:none;" textLength="11.20" lengthAdjust="spacingAndGlyphs">**</text>
<text x="342.20" y="888.75" font-size="14.5" text-anchor="middle" style="stroke:none;" textLength="11.20" lengthAdjust="spacingAndGlyphs">**</text>
<text x="277.20" y="1050.50" font-size="14.3" text-anchor="middle" textLength="73.30" lengthAdjust="spacingAndGlyphs">IL-3 (ng/ml)</text>
<text x="355.00" y="858.70" font-size="24">I</text>
<rect x="366.60" y="871.70" width="147.20" height="150.10" fill="none" stroke="#000" stroke-width="1.2"/>
<line x1="364.00" y1="1021.80" x2="366.60" y2="1021.80" stroke="#000" stroke-width="1.0"/>
<text x="362.50" y="1026.20" font-size="12.2" text-anchor="end">0</text>
<line x1="364.00" y1="1000.36" x2="366.60" y2="1000.36" stroke="#000" stroke-width="1.0"/>
<text x="362.50" y="1004.76" font-size="12.2" text-anchor="end">1</text>
<line x1="364.00" y1="978.91" x2="366.60" y2="978.91" stroke="#000" stroke-width="1.0"/>
<text x="362.50" y="983.31" font-size="12.2" text-anchor="end">2</text>
<line x1="364.00" y1="957.47" x2="366.60" y2="957.47" stroke="#000" stroke-width="1.0"/>
<text x="362.50" y="961.87" font-size="12.2" text-anchor="end">3</text>
<line x1="364.00" y1="936.03" x2="366.60" y2="936.03" stroke="#000" stroke-width="1.0"/>
<text x="362.50" y="940.43" font-size="12.2" text-anchor="end">4</text>
<line x1="364.00" y1="914.59" x2="366.60" y2="914.59" stroke="#000" stroke-width="1.0"/>
<text x="362.50" y="918.99" font-size="12.2" text-anchor="end">5</text>
<line x1="364.00" y1="893.14" x2="366.60" y2="893.14" stroke="#000" stroke-width="1.0"/>
<text x="362.50" y="897.54" font-size="12.2" text-anchor="end">6</text>
<line x1="364.00" y1="871.70" x2="366.60" y2="871.70" stroke="#000" stroke-width="1.0"/>
<text x="362.50" y="876.10" font-size="12.2" text-anchor="end">7</text>
<line x1="372.90" y1="1021.80" x2="372.90" y2="1024.60" stroke="#000" stroke-width="1.0"/>
<text x="372.90" y="1035.60" font-size="10.8" text-anchor="middle">0</text>
<line x1="399.34" y1="1021.80" x2="399.34" y2="1024.60" stroke="#000" stroke-width="1.0"/>
<text x="399.34" y="1035.60" font-size="10.8" text-anchor="middle">200</text>
<line x1="425.78" y1="1021.80" x2="425.78" y2="1024.60" stroke="#000" stroke-width="1.0"/>
<text x="425.78" y="1035.60" font-size="10.8" text-anchor="middle">400</text>
<line x1="452.22" y1="1021.80" x2="452.22" y2="1024.60" stroke="#000" stroke-width="1.0"/>
<text x="452.22" y="1035.60" font-size="10.8" text-anchor="middle">600</text>
<line x1="478.66" y1="1021.80" x2="478.66" y2="1024.60" stroke="#000" stroke-width="1.0"/>
<text x="478.66" y="1035.60" font-size="10.8" text-anchor="middle">800</text>
<line x1="505.10" y1="1021.80" x2="505.10" y2="1024.60" stroke="#000" stroke-width="1.0"/>
<text x="505.10" y="1035.60" font-size="10.8" text-anchor="middle">1000</text>
<path d="M372.90 962.83 L379.51 944.18 L386.12 943.53 L439.00 939.25 L505.10 912.01" fill="none" stroke="#000" stroke-width="1.2"/>
<line x1="372.90" y1="959.62" x2="372.90" y2="966.05" stroke="#000" stroke-width="1.1"/>
<line x1="369.80" y1="959.62" x2="376.00" y2="959.62" stroke="#000" stroke-width="1.1"/>
<line x1="369.80" y1="966.05" x2="376.00" y2="966.05" stroke="#000" stroke-width="1.1"/>
<circle cx="372.90" cy="962.83" r="2.1" fill="#000"/>
<line x1="379.51" y1="938.82" x2="379.51" y2="949.54" stroke="#000" stroke-width="1.1"/>
<line x1="376.41" y1="938.82" x2="382.61" y2="938.82" stroke="#000" stroke-width="1.1"/>
<line x1="376.41" y1="949.54" x2="382.61" y2="949.54" stroke="#000" stroke-width="1.1"/>
<circle cx="379.51" cy="944.18" r="2.1" fill="#000"/>
<line x1="386.12" y1="939.25" x2="386.12" y2="947.82" stroke="#000" stroke-width="1.1"/>
<line x1="383.02" y1="939.25" x2="389.22" y2="939.25" stroke="#000" stroke-width="1.1"/>
<line x1="383.02" y1="947.82" x2="389.22" y2="947.82" stroke="#000" stroke-width="1.1"/>
<circle cx="386.12" cy="943.53" r="2.1" fill="#000"/>
<line x1="439.00" y1="935.60" x2="439.00" y2="942.89" stroke="#000" stroke-width="1.1"/>
<line x1="435.90" y1="935.60" x2="442.10" y2="935.60" stroke="#000" stroke-width="1.1"/>
<line x1="435.90" y1="942.89" x2="442.10" y2="942.89" stroke="#000" stroke-width="1.1"/>
<circle cx="439.00" cy="939.25" r="2.1" fill="#000"/>
<line x1="505.10" y1="905.58" x2="505.10" y2="918.45" stroke="#000" stroke-width="1.1"/>
<line x1="502.00" y1="905.58" x2="508.20" y2="905.58" stroke="#000" stroke-width="1.1"/>
<line x1="502.00" y1="918.45" x2="508.20" y2="918.45" stroke="#000" stroke-width="1.1"/>
<circle cx="505.10" cy="912.01" r="2.1" fill="#000"/>
<text x="379.30" y="941.45" font-size="14.5" text-anchor="middle" style="stroke:none;" textLength="11.20" lengthAdjust="spacingAndGlyphs">**</text>
<text x="388.00" y="934.85" font-size="14.5" text-anchor="middle" style="stroke:none;" textLength="11.20" lengthAdjust="spacingAndGlyphs">**</text>
<text x="439.50" y="936.55" font-size="14.5" text-anchor="middle" style="stroke:none;" textLength="11.20" lengthAdjust="spacingAndGlyphs">**</text>
<text x="505.20" y="905.45" font-size="14.5" text-anchor="middle" style="stroke:none;" textLength="17.00" lengthAdjust="spacingAndGlyphs">***</text>
<text x="443.20" y="1050.50" font-size="14.3" text-anchor="middle" textLength="75.00" lengthAdjust="spacingAndGlyphs">LPS (ng/ml)</text>
<text x="1.50" y="1085.00" font-size="24">J</text>
<line x1="38.80" y1="1105.50" x2="38.80" y2="1319.45" stroke="#000" stroke-width="1.5"/>
<line x1="38.10" y1="1318.70" x2="237.00" y2="1318.70" stroke="#000" stroke-width="1.5"/>
<line x1="35.60" y1="1318.70" x2="38.80" y2="1318.70" stroke="#000" stroke-width="1.1"/>
<text x="29.20" y="1323.90" font-size="14.5" text-anchor="end">0</text>
<line x1="35.60" y1="1288.35" x2="38.80" y2="1288.35" stroke="#000" stroke-width="1.1"/>
<text x="29.20" y="1293.55" font-size="14.5" text-anchor="end">1</text>
<line x1="35.60" y1="1258.00" x2="38.80" y2="1258.00" stroke="#000" stroke-width="1.1"/>
<text x="29.20" y="1263.20" font-size="14.5" text-anchor="end">2</text>
<line x1="35.60" y1="1227.65" x2="38.80" y2="1227.65" stroke="#000" stroke-width="1.1"/>
<text x="29.20" y="1232.85" font-size="14.5" text-anchor="end">3</text>
<line x1="35.60" y1="1197.30" x2="38.80" y2="1197.30" stroke="#000" stroke-width="1.1"/>
<text x="29.20" y="1202.50" font-size="14.5" text-anchor="end">4</text>
<line x1="35.60" y1="1166.95" x2="38.80" y2="1166.95" stroke="#000" stroke-width="1.1"/>
<text x="29.20" y="1172.15" font-size="14.5" text-anchor="end">5</text>
<line x1="35.60" y1="1136.60" x2="38.80" y2="1136.60" stroke="#000" stroke-width="1.1"/>
<text x="29.20" y="1141.80" font-size="14.5" text-anchor="end">6</text>
<line x1="35.60" y1="1106.25" x2="38.80" y2="1106.25" stroke="#000" stroke-width="1.1"/>
<text x="29.20" y="1111.45" font-size="14.5" text-anchor="end">7</text>
<rect x="48.30" y="1235.00" width="26.70" height="83.70" fill="#000"/>
<line x1="61.65" y1="1235.00" x2="61.65" y2="1230.50" stroke="#000" stroke-width="1.6"/>
<line x1="58.25" y1="1230.50" x2="65.05" y2="1230.50" stroke="#000" stroke-width="1.6"/>
<rect x="79.60" y="1178.80" width="26.70" height="139.90" fill="#000"/>
<line x1="92.95" y1="1178.80" x2="92.95" y2="1172.00" stroke="#000" stroke-width="1.6"/>
<line x1="89.55" y1="1172.00" x2="96.35" y2="1172.00" stroke="#000" stroke-width="1.6"/>
<rect x="111.40" y="1178.50" width="26.40" height="140.20" fill="#000"/>
<line x1="124.60" y1="1178.50" x2="124.60" y2="1167.50" stroke="#000" stroke-width="1.6"/>
<line x1="121.20" y1="1167.50" x2="128.00" y2="1167.50" stroke="#000" stroke-width="1.6"/>
<rect x="142.50" y="1124.60" width="26.70" height="194.10" fill="#000"/>
<line x1="155.85" y1="1124.60" x2="155.85" y2="1116.00" stroke="#000" stroke-width="1.6"/>
<line x1="152.45" y1="1116.00" x2="159.25" y2="1116.00" stroke="#000" stroke-width="1.6"/>
<rect x="173.80" y="1189.80" width="26.80" height="128.90" fill="#000"/>
<line x1="187.20" y1="1189.80" x2="187.20" y2="1182.00" stroke="#000" stroke-width="1.6"/>
<line x1="183.80" y1="1182.00" x2="190.60" y2="1182.00" stroke="#000" stroke-width="1.6"/>
<rect x="205.50" y="1153.00" width="26.80" height="165.70" fill="#000"/>
<line x1="218.90" y1="1153.00" x2="218.90" y2="1142.00" stroke="#000" stroke-width="1.6"/>
<line x1="215.50" y1="1142.00" x2="222.30" y2="1142.00" stroke="#000" stroke-width="1.6"/>
<text x="71.20" y="1316.30" font-size="27.5" transform="rotate(-90 71.20 1316.30)" style="fill:#fff;stroke:#fff;" textLength="67.50" lengthAdjust="spacingAndGlyphs">CTRL</text>
<text x="100.00" y="1315.00" font-size="19" transform="rotate(-90 100.00 1315.00)" style="fill:#fff;stroke:#fff;" textLength="117.50" lengthAdjust="spacingAndGlyphs">VEGF-C152S</text>
<text x="133.30" y="1303.80" font-size="25" transform="rotate(-90 133.30 1303.80)" style="fill:#fff;stroke:#fff;" textLength="42.40" lengthAdjust="spacingAndGlyphs">IL-3</text>
<text x="163.00" y="1315.50" font-size="19.5" transform="rotate(-90 163.00 1315.50)" style="fill:#fff;stroke:#fff;" textLength="187.00" lengthAdjust="spacingAndGlyphs">IL-3 + VEGF-C152S</text>
<text x="197.00" y="1306.30" font-size="25.5" transform="rotate(-90 197.00 1306.30)" style="fill:#fff;stroke:#fff;" textLength="45.00" lengthAdjust="spacingAndGlyphs">LPS</text>
<text x="225.60" y="1316.00" font-size="17.5" transform="rotate(-90 225.60 1316.00)" style="fill:#fff;stroke:#fff;" textLength="160.00" lengthAdjust="spacingAndGlyphs">LPS + VEGF-C152S</text>
<text x="93.20" y="1175.49" font-size="22" text-anchor="middle" style="font-weight:normal;stroke-width:0.5px;" textLength="28.60" lengthAdjust="spacingAndGlyphs">***</text>
<text x="124.70" y="1171.79" font-size="22" text-anchor="middle" style="font-weight:normal;stroke-width:0.5px;" textLength="28.60" lengthAdjust="spacingAndGlyphs">***</text>
<text x="187.20" y="1187.29" font-size="22" text-anchor="middle" style="font-weight:normal;stroke-width:0.5px;" textLength="28.60" lengthAdjust="spacingAndGlyphs">***</text>
<text x="154.50" y="1111.80" font-size="12.5" text-anchor="middle" textLength="23.00" lengthAdjust="spacingAndGlyphs">###</text>
<text x="155.50" y="1097.60" font-size="14.5" text-anchor="middle" textLength="26.00" lengthAdjust="spacingAndGlyphs">+++</text>
<text x="219.20" y="1137.60" font-size="12.5" text-anchor="middle" textLength="15.50" lengthAdjust="spacingAndGlyphs">##</text>
<text x="219.40" y="1125.00" font-size="14.5" text-anchor="middle">+</text>
<text x="14.90" y="1212.20" font-size="13" text-anchor="middle" transform="rotate(-90 14.90 1212.20)" textLength="220.00" lengthAdjust="spacingAndGlyphs">Average cell number per well (x10<tspan font-size="8.5" dy="-4.5">3</tspan><tspan dy="4.5">)</tspan></text>
<text x="267.00" y="1085.00" font-size="24">K</text>
<line x1="318.00" y1="1098.50" x2="318.00" y2="1319.45" stroke="#000" stroke-width="1.5"/>
<line x1="317.30" y1="1318.70" x2="520.00" y2="1318.70" stroke="#000" stroke-width="1.5"/>
<line x1="314.20" y1="1318.70" x2="318.00" y2="1318.70" stroke="#000" stroke-width="1.4"/>
<text x="308.00" y="1324.30" font-size="14" text-anchor="end" textLength="19.30" lengthAdjust="spacingAndGlyphs">0.0</text>
<line x1="314.20" y1="1282.12" x2="318.00" y2="1282.12" stroke="#000" stroke-width="1.4"/>
<text x="308.00" y="1287.72" font-size="14" text-anchor="end" textLength="19.30" lengthAdjust="spacingAndGlyphs">0.5</text>
<line x1="314.20" y1="1245.55" x2="318.00" y2="1245.55" stroke="#000" stroke-width="1.4"/>
<text x="308.00" y="1251.15" font-size="14" text-anchor="end" textLength="19.30" lengthAdjust="spacingAndGlyphs">1.0</text>
<line x1="314.20" y1="1208.98" x2="318.00" y2="1208.98" stroke="#000" stroke-width="1.4"/>
<text x="308.00" y="1214.58" font-size="14" text-anchor="end" textLength="19.30" lengthAdjust="spacingAndGlyphs">1.5</text>
<line x1="314.20" y1="1172.40" x2="318.00" y2="1172.40" stroke="#000" stroke-width="1.4"/>
<text x="308.00" y="1178.00" font-size="14" text-anchor="end" textLength="19.30" lengthAdjust="spacingAndGlyphs">2.0</text>
<line x1="314.20" y1="1135.83" x2="318.00" y2="1135.83" stroke="#000" stroke-width="1.4"/>
<text x="308.00" y="1141.42" font-size="14" text-anchor="end" textLength="19.30" lengthAdjust="spacingAndGlyphs">2.5</text>
<line x1="314.20" y1="1099.25" x2="318.00" y2="1099.25" stroke="#000" stroke-width="1.4"/>
<text x="308.00" y="1104.85" font-size="14" text-anchor="end" textLength="19.30" lengthAdjust="spacingAndGlyphs">3.0</text>
<rect x="326.30" y="1244.50" width="26.70" height="74.20" fill="#000"/>
<line x1="339.65" y1="1244.50" x2="339.65" y2="1240.80" stroke="#000" stroke-width="1.6"/>
<line x1="336.15" y1="1240.80" x2="343.15" y2="1240.80" stroke="#000" stroke-width="1.6"/>
<rect x="357.80" y="1187.20" width="26.60" height="131.50" fill="#000"/>
<line x1="371.10" y1="1187.20" x2="371.10" y2="1170.60" stroke="#000" stroke-width="1.6"/>
<line x1="367.60" y1="1170.60" x2="374.60" y2="1170.60" stroke="#000" stroke-width="1.6"/>
<rect x="389.80" y="1164.60" width="26.50" height="154.10" fill="#000"/>
<line x1="403.05" y1="1164.60" x2="403.05" y2="1149.80" stroke="#000" stroke-width="1.6"/>
<line x1="399.55" y1="1149.80" x2="406.55" y2="1149.80" stroke="#000" stroke-width="1.6"/>
<rect x="421.50" y="1128.30" width="26.80" height="190.40" fill="#000"/>
<line x1="434.90" y1="1128.30" x2="434.90" y2="1120.60" stroke="#000" stroke-width="1.6"/>
<line x1="431.40" y1="1120.60" x2="438.40" y2="1120.60" stroke="#000" stroke-width="1.6"/>
<rect x="453.50" y="1203.80" width="26.50" height="114.90" fill="#000"/>
<line x1="466.75" y1="1203.80" x2="466.75" y2="1189.20" stroke="#000" stroke-width="1.6"/>
<line x1="463.25" y1="1189.20" x2="470.25" y2="1189.20" stroke="#000" stroke-width="1.6"/>
<rect x="485.20" y="1149.20" width="26.60" height="169.50" fill="#000"/>
<line x1="498.50" y1="1149.20" x2="498.50" y2="1137.00" stroke="#000" stroke-width="1.6"/>
<line x1="495.00" y1="1137.00" x2="502.00" y2="1137.00" stroke="#000" stroke-width="1.6"/>
<text x="349.00" y="1316.60" font-size="27" transform="rotate(-90 349.00 1316.60)" style="fill:#fff;stroke:#fff;" textLength="70.00" lengthAdjust="spacingAndGlyphs">CTRL</text>
<text x="379.30" y="1318.20" font-size="22.5" transform="rotate(-90 379.30 1318.20)" style="fill:#fff;stroke:#fff;" textLength="128.40" lengthAdjust="spacingAndGlyphs">VEGF-C152S</text>
<text x="413.60" y="1302.50" font-size="27" transform="rotate(-90 413.60 1302.50)" style="fill:#fff;stroke:#fff;" textLength="44.50" lengthAdjust="spacingAndGlyphs">IL-3</text>
<text x="442.60" y="1317.80" font-size="20" transform="rotate(-90 442.60 1317.80)" style="fill:#fff;stroke:#fff;" textLength="186.60" lengthAdjust="spacingAndGlyphs">IL-3 + VEGF-C152S</text>
<text x="477.00" y="1304.30" font-size="26" transform="rotate(-90 477.00 1304.30)" style="fill:#fff;stroke:#fff;" textLength="47.00" lengthAdjust="spacingAndGlyphs">LPS</text>
<text x="505.20" y="1317.80" font-size="18" transform="rotate(-90 505.20 1317.80)" style="fill:#fff;stroke:#fff;" textLength="165.50" lengthAdjust="spacingAndGlyphs">LPS + VEGF-C152S</text>
<text x="371.20" y="1174.49" font-size="22" text-anchor="middle" style="font-weight:normal;stroke-width:0.5px;" textLength="28.60" lengthAdjust="spacingAndGlyphs">***</text>
<text x="403.00" y="1153.99" font-size="22" text-anchor="middle" style="font-weight:normal;stroke-width:0.5px;" textLength="28.60" lengthAdjust="spacingAndGlyphs">***</text>
<text x="466.00" y="1189.99" font-size="22" text-anchor="middle" style="font-weight:normal;stroke-width:0.5px;" textLength="28.60" lengthAdjust="spacingAndGlyphs">***</text>
<text x="434.60" y="1116.20" font-size="13.5" text-anchor="middle" textLength="23.20" lengthAdjust="spacingAndGlyphs">###</text>
<text x="434.30" y="1103.80" font-size="14.5" text-anchor="middle" textLength="25.50" lengthAdjust="spacingAndGlyphs">+++</text>
<text x="497.70" y="1132.40" font-size="13" text-anchor="middle" textLength="23.00" lengthAdjust="spacingAndGlyphs">###</text>
<text x="497.00" y="1121.70" font-size="14.5" text-anchor="middle" textLength="16.30" lengthAdjust="spacingAndGlyphs">++</text>
<text x="283.20" y="1209.50" font-size="16" text-anchor="middle" transform="rotate(-90 283.20 1209.50)" textLength="228.00" lengthAdjust="spacingAndGlyphs">Fold increase in LEC migration</text>
</g>
</svg>
</body></html>
